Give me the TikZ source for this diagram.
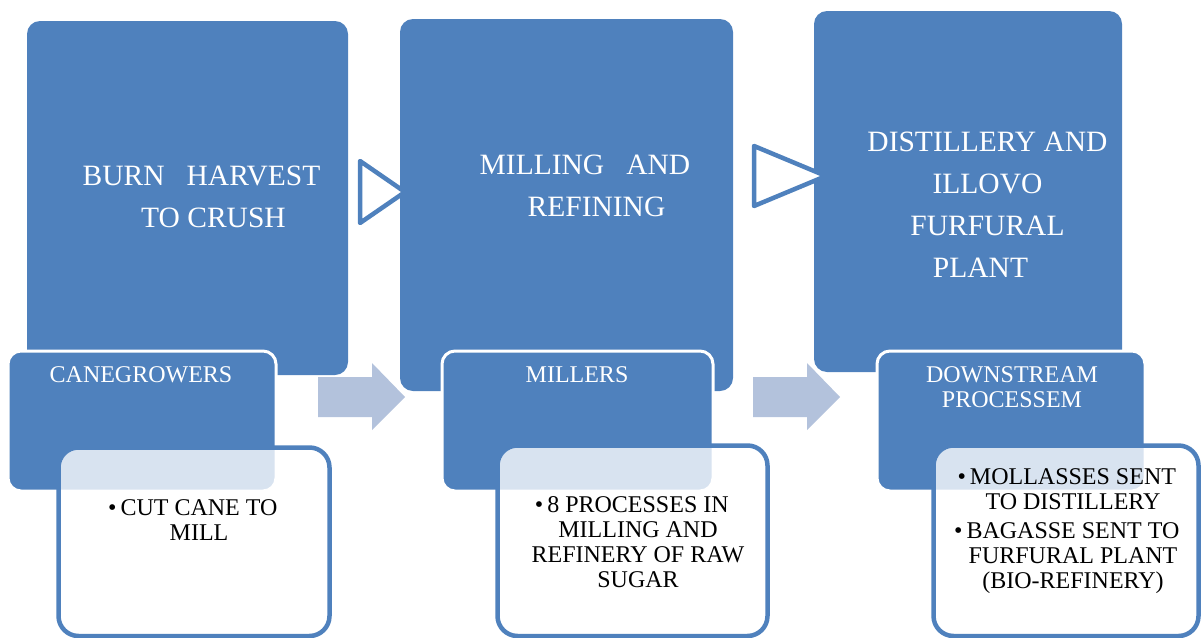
\documentclass[tikz,border=0pt]{standalone}
\usepackage{fontspec}
\setmainfont{Liberation Serif}
\definecolor{accent}{HTML}{4F81BD}
\definecolor{lightarrow}{HTML}{B3C2DC}
\begin{document}
\begin{tikzpicture}[x=1pt,y=-1pt]
\tikzset{
 bigbox/.style={rectangle, rounded corners=13pt, fill=accent, inner sep=0},
 midbox/.style={rectangle, rounded corners=13pt, fill=accent, draw=white, line width=3pt, inner sep=0},
 notebox/.style={rectangle, rounded corners=20pt, fill=white, fill opacity=0.78, draw=accent, line width=4.5pt, inner sep=0},
 hollow/.style={draw=accent, fill=white, line width=4.5pt, line join=round},
 flow/.style={fill=lightarrow},
 bigtext/.style={text=white, font=\fontsize{29.5}{42}\selectfont, align=center, anchor=base, inner sep=0},
 headtext/.style={text=white, font=\fontsize{24}{25}\selectfont, align=center, anchor=base, inner sep=0},
 bullettext/.style={text=black, font=\fontsize{24}{25}\selectfont, align=center, anchor=base, inner sep=0},
}
\useasboundingbox (0,0) rectangle (1201,637);
\begin{scope}
\clip (0,0) rectangle (1201,637);
% big boxes
\node[bigbox, minimum width=321pt, minimum height=354pt] (b1) at (187.5,198) {};
\node[bigbox, minimum width=333pt, minimum height=372pt] (b2) at (566.5,205) {};
\node[bigbox, minimum width=308pt, minimum height=361pt] (b3) at (968,191.5) {};
% hollow triangles
\draw[hollow] (360,161) -- (360,223) -- (405,192) -- cycle;
\draw[hollow] (754,146) -- (754,206) -- (826,176) -- cycle;
% middle boxes
\node[midbox, minimum width=268pt, minimum height=140pt] (s1) at (142,421) {};
\node[midbox, minimum width=271pt, minimum height=140pt] (s2) at (577.5,421) {};
\node[midbox, minimum width=268pt, minimum height=140pt] (s3) at (1011,421) {};
% light block arrows
\fill[flow] (318,377) -- (372,377) -- (372,363) -- (405,397) -- (372,430) -- (372,417) -- (318,417) -- cycle;
\fill[flow] (753,377) -- (807,377) -- (807,363) -- (840,397) -- (807,430) -- (807,417) -- (753,417) -- cycle;
% note boxes
\node[notebox, minimum width=271pt, minimum height=188.5pt] (w1) at (194,541.75) {};
\node[notebox, minimum width=270pt, minimum height=190.5pt] (w2) at (632.5,540.75) {};
\node[notebox, minimum width=265pt, minimum height=190.5pt] (w3) at (1066,540.75) {};
\end{scope}
% texts (anchor=base is the baseline of the last line)
\node[bigtext] (t1) at (201.5,227) {BURN\ \ \ HARVEST\\\hspace*{24pt}TO CRUSH};
\node[bigtext] (t2) at (585,216) {MILLING\ \ \ AND\\\hspace*{23pt}REFINING};
\node[bigtext] (t3) at (987.5,277) {DISTILLERY AND\\ILLOVO\\FURFURAL\hspace*{15pt}\\PLANT\hspace*{14pt}};
\node[headtext] (h1) at (141,382) {CANEGROWERS};
\node[headtext] (h2) at (577,382) {MILLERS};
\node[headtext] (h3) at (1012,407) {DOWNSTREAM\\PROCESSEM};
\node[bullettext] (n1) at (199,540) {\llap{\textbullet\,}CUT CANE TO\\MILL};
\node[bullettext] (n2) at (638,587) {\llap{\textbullet\,}8 PROCESSES IN\\MILLING AND\\REFINERY OF RAW\\SUGAR};
\node[bullettext] (n3) at (1073,588) {\llap{\textbullet\,}MOLLASSES SENT\\TO DISTILLERY\\[4pt]\llap{\textbullet\,}BAGASSE SENT TO\\FURFURAL PLANT\\(BIO-REFINERY)};
\end{tikzpicture}
\end{document}
